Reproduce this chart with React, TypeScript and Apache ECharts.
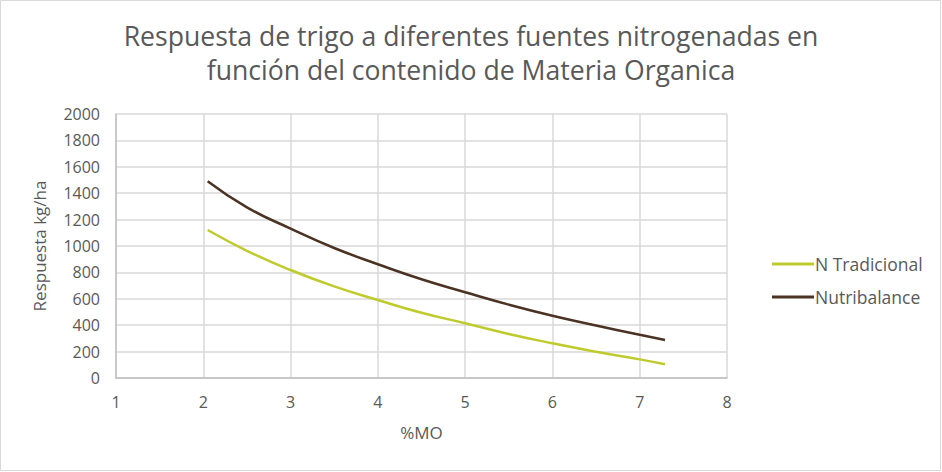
import React, { useEffect, useRef } from "react";
import * as echarts from "echarts";

const titleLines = [
  "Respuesta de trigo a diferentes fuentes nitrogenadas en",
  "función del contenido de Materia Organica",
];
const xAxisName = "%MO";
const yAxisName = "Respuesta kg/ha";

const moValues = [2.05, 2.5, 3, 3.5, 4, 4.5, 5, 5.5, 6, 6.5, 7, 7.29];
const nTradicional = [1121, 964, 818, 694, 591, 494, 415, 334, 263, 199, 141, 104];
const nutribalance = [1490, 1293, 1132, 985, 862, 748, 650, 556, 472, 398, 327, 288];

const seriesNames = ["N Tradicional", "Nutribalance"];
const seriesColors = ["#BFCB2C", "#4B3323"];

const toPairs = (xs: number[], ys: number[]) => xs.map((x, i) => [x, ys[i]]);

export default function App() {
  const ref = useRef<HTMLDivElement>(null);
  useEffect(() => {
    document.body.style.margin = "0";
    const chart = echarts.init(ref.current!, null, { renderer: "svg" });
    const labelStyle = { color: "#595959", fontSize: 16, fontFamily: "Open Sans, sans-serif" };
    chart.setOption({
      animation: false,
      backgroundColor: "#ffffff",
      title: {
        text: titleLines.join("\n"),
        left: "center",
        top: 14,
        textStyle: {
          color: "#595959",
          fontSize: 26.6,
          fontWeight: "normal",
          fontFamily: "Open Sans, sans-serif",
          lineHeight: 34,
        },
      },
      graphic: [
        {
          type: "rect",
          shape: { x: 0.5, y: 0.5, width: 940, height: 470 },
          style: { fill: "none", stroke: "#d9d9d9", lineWidth: 1 },
          silent: true,
        },
      ],
      legend: {
        orient: "vertical",
        left: 767,
        top: 250,
        icon: "rect",
        itemWidth: 42,
        itemHeight: 3,
        itemGap: 15,
        textStyle: { ...labelStyle, fontSize: 17.5, padding: [0, 0, 0, -4] },
        data: seriesNames,
      },
      grid: { left: 116, right: 215, top: 114, bottom: 94, containLabel: false },
      xAxis: {
        type: "value",
        min: 1,
        max: 8,
        interval: 1,
        name: xAxisName,
        nameLocation: "middle",
        nameGap: 46,
        nameTextStyle: { ...labelStyle, fontSize: 17 },
        axisLine: { show: true, lineStyle: { color: "#bfbfbf", width: 1.5 } },
        axisTick: { show: false },
        axisLabel: { ...labelStyle, margin: 16 },
        splitLine: { show: true, lineStyle: { color: "#d9d9d9", width: 1.5 } },
      },
      yAxis: {
        type: "value",
        min: 0,
        max: 2000,
        interval: 200,
        name: yAxisName,
        nameLocation: "middle",
        nameGap: 68,
        nameTextStyle: { ...labelStyle, fontSize: 17 },
        axisLine: { show: true, lineStyle: { color: "#bfbfbf", width: 1.5 } },
        axisTick: { show: false },
        axisLabel: { ...labelStyle, margin: 16, formatter: (v: number) => String(v) },
        splitLine: { show: true, lineStyle: { color: "#d9d9d9", width: 1.5 } },
      },
      series: [
        {
          name: seriesNames[0],
          type: "line",
          smooth: true,
          showSymbol: false,
          data: toPairs(moValues, nTradicional),
          lineStyle: { color: seriesColors[0], width: 2.5 },
          itemStyle: { color: seriesColors[0] },
        },
        {
          name: seriesNames[1],
          type: "line",
          smooth: true,
          showSymbol: false,
          data: toPairs(moValues, nutribalance),
          lineStyle: { color: seriesColors[1], width: 2.5 },
          itemStyle: { color: seriesColors[1] },
        },
      ],
    });
    return () => chart.dispose();
  }, []);
  return <div ref={ref} style={{ width: 942, height: 472 }} />;
}
